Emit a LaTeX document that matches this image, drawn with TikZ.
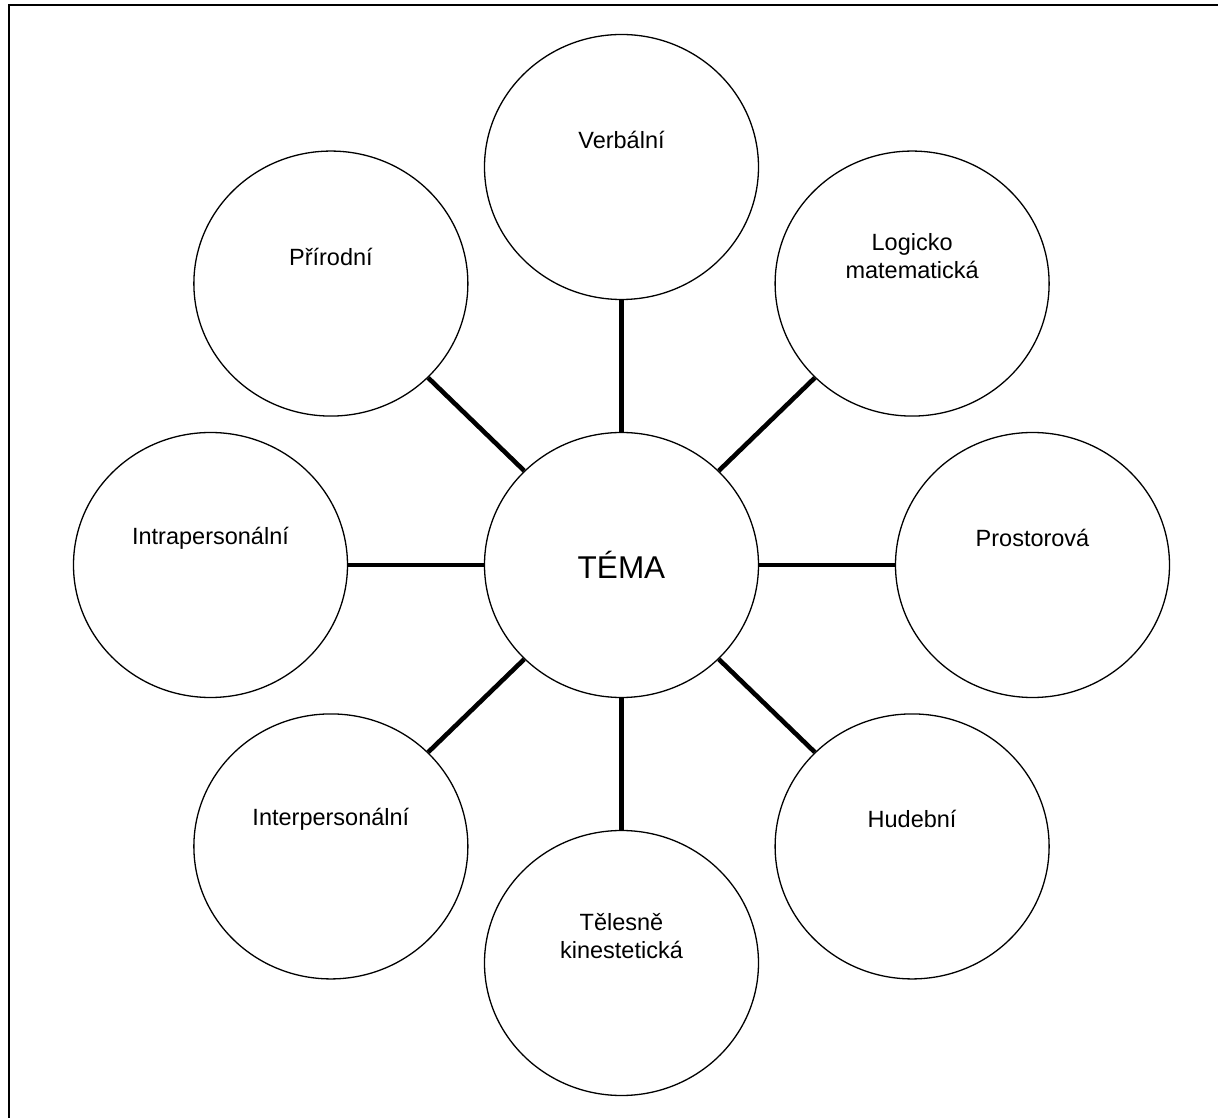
\documentclass[tikz,border=0pt]{standalone}
\usepackage{fontspec}
\setmainfont{Liberation Sans}
\usetikzlibrary{shapes.geometric}
\tikzset{
  kruh/.style={draw,ellipse,line width=1.3pt,minimum width=274pt,minimum height=265pt,inner sep=0pt},
  popis/.style={align=center,font=\fontsize{23.5}{28}\selectfont},
  spoj/.style={line width=4.6pt},
}
\begin{document}
\begin{tikzpicture}[x=1pt,y=1pt]
      \clip (-621.5,-553) rectangle (596.5,565);
      \draw[line width=1.6pt] (-612.5,560) rectangle (640,-600);
      \draw
        (0,0) node[kruh,font=\fontsize{31.5}{36}\selectfont] (0){TÉMA}
        (90:398 and 398) node[kruh] (1){}
        (45:411 and 398) node[kruh] (2){}
        (0:411 and 398) node[kruh] (3){}
        (-45:411 and 398) node[kruh] (4){}
        (-90:398 and 398) node[kruh] (5){}
        (-135:411 and 398) node[kruh] (6){}
        (180:411 and 398) node[kruh] (7){}
        (135:411 and 398) node[kruh] (8){};
      \foreach \n/\txt in {1/Verbální,2/{Logicko\\matematická},3/Prostorová,4/Hudební,
          5/{Tělesně\\kinestetická},6/Interpersonální,7/Intrapersonální,8/Přírodní}
        \node[popis] (t\n) at ([yshift=27pt]\n.center) {\txt};
      \begin{scope}[spoj]
        \draw (0) to (1);
        \draw (0) to (2);
        \draw (0) to (3);
        \draw (0) to (4);
        \draw (0) to (5);
        \draw (0) to (6);
        \draw (0) to (7);
        \draw (0) to (8);
      \end{scope}
    \end{tikzpicture}
\end{document}
